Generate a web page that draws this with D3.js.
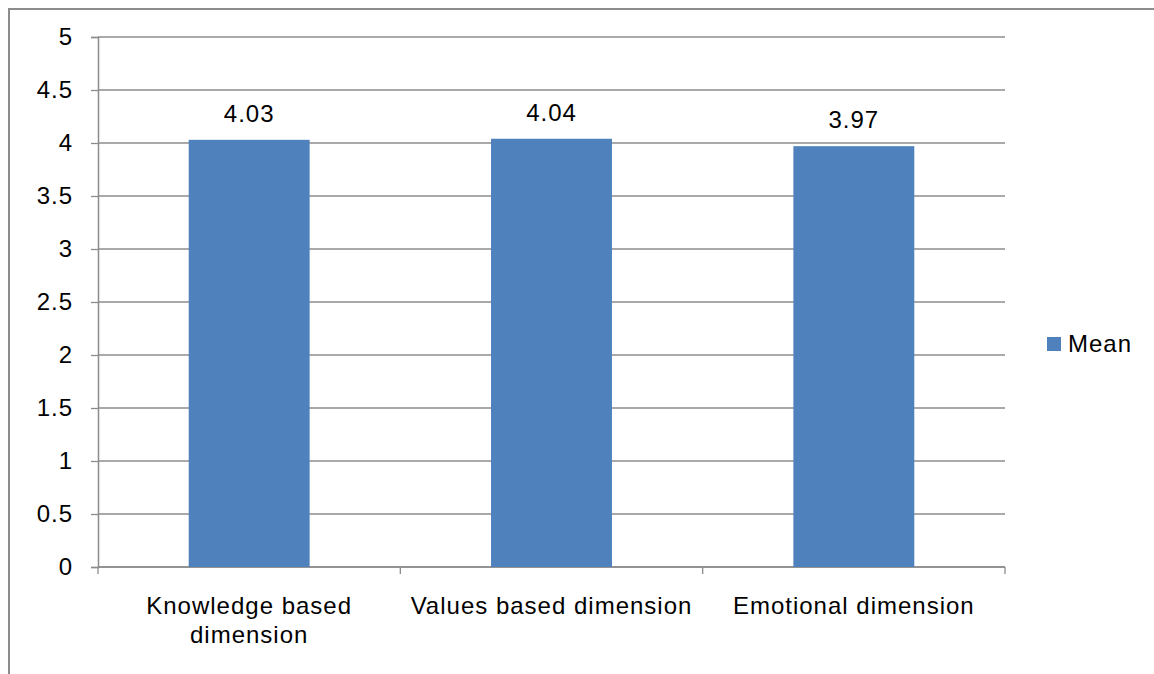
<!DOCTYPE html>
<html>
<head>
<meta charset="utf-8">
<script src="https://cdn.jsdelivr.net/npm/d3@7"></script>
<style>
  html, body { margin: 0; padding: 0; background: #fff; }
  svg { display: block; font-family: "Liberation Sans", Arial, sans-serif; }
  .lbl { font-size: 24px; letter-spacing: 1px; fill: #000; }
</style>
</head>
<body>
<svg id="chart" width="1154" height="674"></svg>
<script>
const categories = [["Knowledge based", "dimension"], ["Values based dimension"], ["Emotional dimension"]];
const meanValues = [4.03, 4.04, 3.97];
const yTicks = [0, 0.5, 1, 1.5, 2, 2.5, 3, 3.5, 4, 4.5, 5];
const seriesName = "Mean";

const svg = d3.select("#chart");
const W = 1154, H = 674;
const plot = { left: 98, right: 1005, top: 37, bottom: 567 };
const barColor = "#4f81bd";
const gridColor = "#8c8c8c";

// outer frame
svg.append("path")
  .attr("d", `M9,${H} L9,9 L${W},9`)
  .attr("fill", "none").attr("stroke", "#8c8c8c").attr("stroke-width", 2);

const x = d3.scaleBand()
  .domain(d3.range(categories.length))
  .range([plot.left, plot.right])
  .paddingInner(0.6).paddingOuter(0.3);

const y = d3.scaleLinear().domain([0, 5]).range([plot.bottom, plot.top]);

// horizontal gridlines
svg.append("g").selectAll("line").data(yTicks).join("line")
  .attr("x1", plot.left).attr("x2", plot.right)
  .attr("y1", d => y(d)).attr("y2", d => y(d))
  .attr("stroke", gridColor).attr("stroke-width", 1.3);

// y axis
const yAxis = svg.append("g").attr("transform", `translate(${plot.left},0)`)
  .call(d3.axisLeft(y).tickValues(yTicks).tickSize(7).tickPadding(18).tickFormat(d3.format("")));
yAxis.attr("font-family", null).attr("font-size", null);
yAxis.select(".domain").attr("stroke", gridColor).attr("stroke-width", 1.5);
yAxis.selectAll(".tick line").attr("stroke", gridColor).attr("stroke-width", 1.3);
yAxis.selectAll(".tick text").attr("class", "lbl").attr("fill", "#000");

// x axis baseline with category boundary ticks
const bounds = d3.range(categories.length + 1).map(i => plot.left + i * (plot.right - plot.left) / categories.length);
svg.append("line").attr("x1", plot.left).attr("x2", plot.right)
  .attr("y1", plot.bottom).attr("y2", plot.bottom)
  .attr("stroke", gridColor).attr("stroke-width", 1.5);
svg.append("g").selectAll("line").data(bounds).join("line")
  .attr("x1", d => d).attr("x2", d => d)
  .attr("y1", plot.bottom).attr("y2", plot.bottom + 7)
  .attr("stroke", gridColor).attr("stroke-width", 1.3);

// bars
svg.append("g").selectAll("rect").data(meanValues).join("rect")
  .attr("x", (d, i) => x(i)).attr("width", x.bandwidth())
  .attr("y", d => y(d)).attr("height", d => y(0) - y(d))
  .attr("fill", barColor);

// value labels
svg.append("g").selectAll("text").data(meanValues).join("text")
  .attr("class", "lbl")
  .attr("x", (d, i) => x(i) + x.bandwidth() / 2)
  .attr("y", d => y(d) - 18)
  .attr("text-anchor", "middle")
  .text(d => d.toFixed(2));

// category labels
const catG = svg.append("g");
categories.forEach((lines, i) => {
  const cx = x(i) + x.bandwidth() / 2;
  const t = catG.append("text").attr("class", "lbl")
    .attr("x", cx).attr("y", 614)
    .attr("text-anchor", "middle");
  lines.forEach((ln, j) => {
    t.append("tspan").attr("x", cx).attr("dy", j === 0 ? 0 : 29).text(ln);
  });
});

// legend
const lg = svg.append("g").attr("transform", "translate(1047,337)");
lg.append("rect").attr("width", 14).attr("height", 14).attr("fill", barColor);
lg.append("text").attr("class", "lbl").attr("x", 21).attr("y", 15).text(seriesName);
</script>
</body>
</html>
